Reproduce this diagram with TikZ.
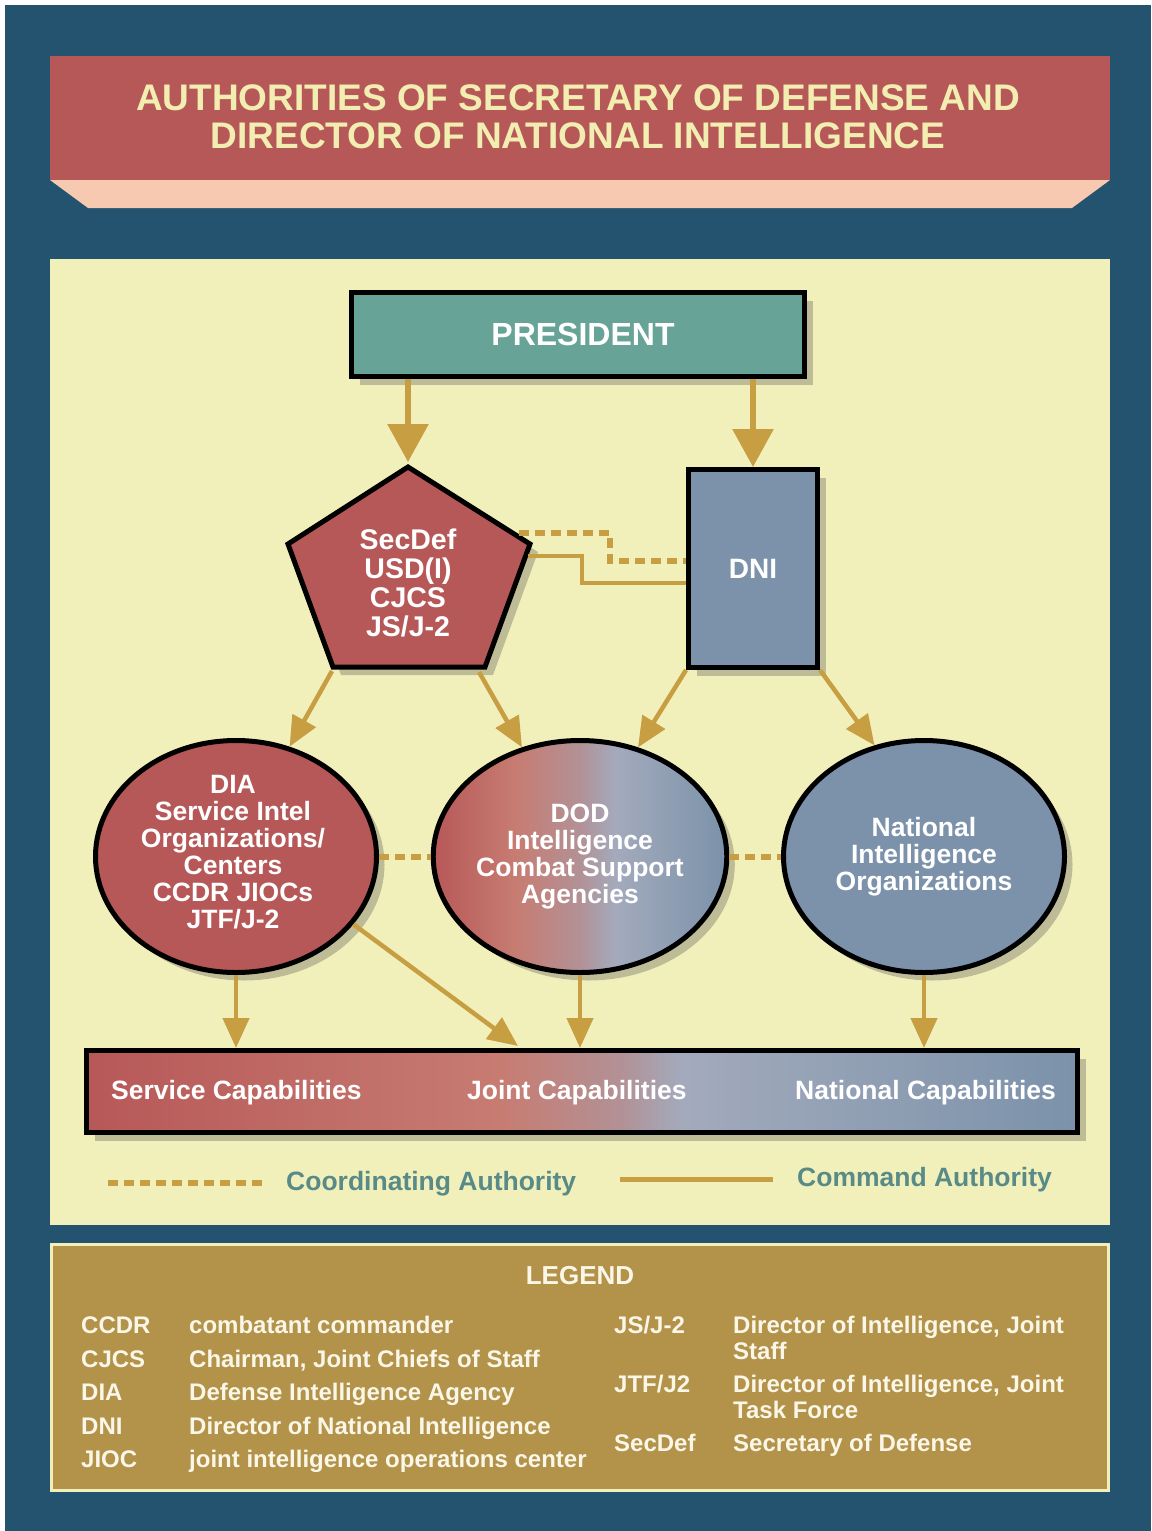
\documentclass[tikz,border=0pt]{standalone}
\usepackage{fontspec}
\setmainfont{Liberation Sans}
\usetikzlibrary{arrows.meta,shapes.geometric,shadows,calc}
\definecolor{bgblue}{RGB}{36,83,111}
\definecolor{redc}{RGB}{183,88,88}
\definecolor{peach}{RGB}{246,201,176}
\definecolor{titley}{RGB}{242,238,178}
\definecolor{panel}{RGB}{242,240,186}
\definecolor{presc}{RGB}{104,163,152}
\definecolor{bluec}{RGB}{123,146,170}
\definecolor{gold}{RGB}{200,158,66}
\definecolor{shadowc}{RGB}{190,188,150}
\definecolor{legbox}{RGB}{179,146,74}
\definecolor{legtext}{RGB}{250,247,232}
\definecolor{labteal}{RGB}{88,138,136}
\definecolor{pinkc}{RGB}{199,124,114}
\definecolor{mauvec}{RGB}{178,145,150}
\definecolor{greyb}{RGB}{163,170,188}
\pgfdeclarehorizontalshading{dodshade}{100bp}{color(0bp)=(redc); color(25bp)=(redc); color(39bp)=(pinkc); color(50bp)=(mauvec); color(56bp)=(greyb); color(75bp)=(bluec); color(100bp)=(bluec)}
\pgfdeclarehorizontalshading{barshade}{100bp}{color(0bp)=(redc); color(25bp)=(redc); color(46bp)=(pinkc); color(52bp)=(mauvec); color(55bp)=(greyb); color(75bp)=(bluec); color(100bp)=(bluec)}
\begin{document}
\begin{tikzpicture}[x=1pt,y=-1pt,
  shd/.style={drop shadow={shadow xshift=8pt,shadow yshift=-8pt,fill=shadowc,opacity=1}},
  boxnode/.style={rectangle,draw=black,line width=5pt,inner sep=0pt,shd,text=white,font=\bfseries\fontsize{28}{29}\selectfont},
  ell/.style={ellipse,draw=black,line width=5pt,minimum width=281pt,minimum height=232pt,inner sep=0pt,shd,text=white,align=center,font=\bfseries\fontsize{26.5}{27}\selectfont},
  bigarr/.style={draw=gold,line width=6pt,-{Triangle[width=40pt,length=38pt]}},
  arr/.style={draw=gold,line width=4.5pt,-{Triangle[width=26pt,length=30pt]}},
  cmdline/.style={draw=gold,line width=4.5pt},
  coordline/.style={draw=gold,line width=5.5pt,dash pattern=on 10pt off 6pt},
  bartxt/.style={text=white,inner sep=0pt,font=\bfseries\fontsize{26.5}{27}\selectfont},
  labtxt/.style={text=labteal,inner sep=0pt,font=\bfseries\fontsize{26.5}{27}\selectfont},
  legtxt/.style={text=legtext,inner sep=0pt,anchor=base west,align=left,font=\bfseries\fontsize{24}{26}\selectfont}]
\useasboundingbox (0,0) rectangle (1151,1531);
\fill[white] (0,0) rectangle (1151,1531);
\fill[bgblue] (5,5) rectangle (1151,1531);
% title banner
\fill[redc] (50,56) rectangle (1110,180);
\fill[peach] (50,180) -- (1110,180) -- (1072,208) -- (88,208) -- cycle;
\node[text=titley,align=center,inner sep=0pt,font=\bfseries\fontsize{37}{38}\selectfont] (title) at (578,117) {AUTHORITIES OF SECRETARY OF DEFENSE AND\\DIRECTOR OF NATIONAL INTELLIGENCE};
% panel
\fill[panel] (50,259) rectangle (1110,1225);
% president
\node[boxnode,fill=presc,minimum width=453pt,minimum height=84pt,font=\bfseries\fontsize{32}{33}\selectfont] (pres) at (578,334.5) {\hspace*{10pt}PRESIDENT};
% SecDef pentagon
\path[draw=black,line width=5pt,fill=redc,shd,line join=miter] (408,467) -- (530,544) -- (485,667) -- (333,667) -- (288,544) -- cycle;
\node[text=white,align=center,inner sep=0pt,font=\bfseries\fontsize{28.5}{29}\selectfont] (secdef) at (408,583) {SecDef\\USD(I)\\CJCS\\JS/J-2};
\coordinate (sdtop) at (408,462);
\coordinate (sdbl) at (332,671);
\coordinate (sdbr) at (479,672);
\coordinate (sddash) at (519,533);
\coordinate (sdsolid) at (528,556);
% DNI
\node[boxnode,fill=bluec,minimum width=129pt,minimum height=198pt] (dni) at (753,568.5) {DNI};
% ellipses
\node[ell,fill=redc,label={[yshift=4pt,text=white,align=center,inner sep=0pt,font=\bfseries\fontsize{26.5}{27}\selectfont,xshift=-3pt]center:{DIA\\Service Intel\\Organizations/\\Centers\\CCDR JIOCs\\JTF/J-2}}] (dia) at (236,856.5) {};
\node[ell,shading=dodshade] (dod) at (580,856.5) {DOD\\Intelligence\\Combat Support\\Agencies};
\node[ell,fill=bluec] (nio) at (924,856.5) {National\\Intelligence\\Organizations};
% capabilities bar
\node[draw=black,line width=5pt,shading=barshade,shd,minimum width=991pt,minimum height=82pt,inner sep=0pt] (bar) at (582,1091.5) {};
\node[bartxt,anchor=base west] (svc) at (111,1099.5) {Service Capabilities};
\node[bartxt,anchor=base west] (jnt) at (467,1099.5) {Joint Capabilities};
\node[bartxt,anchor=base west] (nat) at (795,1099.5) {National Capabilities};
% connectors
\draw[bigarr] (pres.south -| sdtop) -- (sdtop);
\draw[bigarr] (pres.south -| dni.north) -- (dni.north);
\coordinate (d1) at (610,533);
\coordinate (d2) at (610,561);
\coordinate (d3) at (dni.west |- d2);
\draw[coordline] (sddash) -- (d1) -- (d2) -- (d3);
\coordinate (s1) at (582,556);
\coordinate (s2) at (582,583);
\coordinate (s3) at (dni.west |- s2);
\draw[cmdline] (sdsolid) -- (s1) -- (s2) -- (s3);
\draw[arr] (sdbl) -- (dia.64);
\draw[arr] (sdbr) -- (dod.118);
\draw[arr] (dni.south west) -- (dod.62);
\draw[arr] (dni.south east) -- (nio.114);
\draw[coordline,line width=6pt] (dia.east) -- (dod.west);
\draw[coordline,line width=6pt] (dod.east) -- (nio.west);
\coordinate (jtip) at (518,1046);
\draw[arr] (dia.south) -- (dia.south |- bar.north);
\draw[arr] (dia.-30) -- (jtip);
\draw[arr] (dod.south) -- (dod.south |- bar.north);
\draw[arr] (nio.south) -- (nio.south |- bar.north);
% line legend
\coordinate (ca1) at (108,1183);
\coordinate (ca2) at (262,1183);
\draw[coordline,line width=6pt] (ca1) -- (ca2);
\node[labtxt,anchor=base west] (catxt) at (286,1190.5) {Coordinating Authority};
\coordinate (cm1) at (620,1179);
\coordinate (cm2) at (773,1179);
\draw[cmdline,line width=5pt] (cm1) -- (cm2);
\node[labtxt,anchor=base west] (cmtxt) at (797,1186.5) {Command Authority};
% legend box
\draw[fill=legbox,draw=panel,line width=3pt] (51.5,1244.5) rectangle (1108.5,1490.5);
\node[text=legtext,inner sep=0pt,anchor=base,font=\bfseries\fontsize{26}{27}\selectfont] (legend) at (580,1284.3) {LEGEND};
\node[legtxt] (a1) at (81,1333.6) {CCDR};
\node[legtxt] (b1) at (189,1333.6) {combatant commander};
\node[legtxt] (a2) at (81,1367.6) {CJCS};
\node[legtxt] (b2) at (189,1367.6) {Chairman, Joint Chiefs of Staff};
\node[legtxt] (a3) at (81,1400.6) {DIA};
\node[legtxt] (b3) at (189,1400.6) {Defense Intelligence Agency};
\node[legtxt] (a4) at (81,1434.6) {DNI};
\node[legtxt] (b4) at (189,1434.6) {Director of National Intelligence};
\node[legtxt] (a5) at (81,1467.6) {JIOC};
\node[legtxt] (b5) at (189,1467.6) {joint intelligence operations center};
\node[legtxt] (a6) at (614,1333.6) {JS/J-2};
\node[legtxt] (b6) at (733,1333.6) {Director of Intelligence, Joint};
\node[legtxt] (b6b) at (733,1359.6) {Staff};
\node[legtxt] (a7) at (614,1392.6) {JTF/J2};
\node[legtxt] (b7) at (733,1392.6) {Director of Intelligence, Joint};
\node[legtxt] (b7b) at (733,1418.6) {Task Force};
\node[legtxt] (a8) at (614,1451.6) {SecDef};
\node[legtxt] (b8) at (733,1451.6) {Secretary of Defense};
\end{tikzpicture}
\end{document}
